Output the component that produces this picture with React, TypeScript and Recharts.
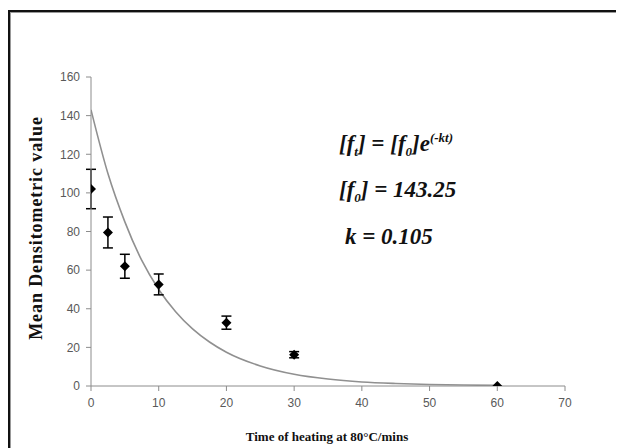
import React from "react";
import {
  ComposedChart,
  Line,
  Scatter,
  ErrorBar,
  XAxis,
  YAxis,
} from "recharts";

// Measured points (time in min, mean densitometric value, error)
const times = [0, 2.5, 5, 10, 20, 30, 60];
const means = [102, 79.5, 62, 52.6, 32.8, 16.2, 0];
const errors = [10.2, 8, 6.2, 5.4, 3.4, 1.6, 0];

// Fitted curve values
const curveTimes = [0, 2.5, 5, 7.5, 10, 12.5, 15, 17.5, 20, 25, 30, 35, 40, 45, 50, 55, 60];
const curveValues = [143, 110, 85, 65, 50, 38.5, 29.6, 22.8, 17.5, 10.4, 6.1, 3.6, 2.1, 1.3, 0.8, 0.5, 0.3];

const xTicks = [0, 10, 20, 30, 40, 50, 60, 70];
const yTicks = [0, 20, 40, 60, 80, 100, 120, 140, 160];

const pointData = times.map((t, i) => ({ t, v: means[i], err: errors[i] }));
const curveData = curveTimes.map((t, i) => ({ t, fit: curveValues[i] }));

const Diamond = (props: any) => {
  const { cx, cy } = props;
  const r = 5;
  return (
    <polygon
      points={`${cx},${cy - r} ${cx + r},${cy} ${cx},${cy + r} ${cx - r},${cy}`}
      fill="#000"
    />
  );
};

const tickFont = "'Liberation Sans', Arial, sans-serif";
const serif = "'Liberation Serif', 'Times New Roman', serif";

export default function App() {
  const ann = {
    fontFamily: serif,
    fontWeight: 700,
    fontStyle: "italic",
    fontSize: 23,
    fill: "#111",
  } as const;
  return (
    <div style={{ position: "relative", width: 616, height: 440, overflow: "hidden" }}>
      <style>{`html { overflow: hidden; }`}</style>
      <div
        style={{
          position: "absolute",
          left: 0,
          top: 2,
          width: 900,
          height: 900,
          borderLeft: "2px solid #111",
          borderTop: "2px solid #111",
          boxShadow: "inset 1px 1px 0 #999",
          pointerEvents: "none",
        }}
      />
      <ComposedChart
        width={616}
        height={440}
        margin={{ top: 69, right: 59, bottom: 32, left: 0 }}
      >
        <XAxis
          type="number"
          dataKey="t"
          domain={[0, 70]}
          ticks={xTicks}
          stroke="#8c8c8c"
          tick={{ fill: "#595959", fontSize: 12, fontFamily: tickFont, dy: 5 }}
          tickSize={5}
          height={30}
          allowDataOverflow
        />
        <YAxis
          type="number"
          domain={[0, 160]}
          ticks={yTicks}
          stroke="#8c8c8c"
          tick={{ fill: "#595959", fontSize: 12, fontFamily: tickFont, dx: -4 }}
          tickSize={5}
          width={83}
          allowDataOverflow
        />
        <Line
          data={curveData}
          dataKey="fit"
          type="monotone"
          stroke="#909090"
          strokeWidth={1.6}
          dot={false}
          isAnimationActive={false}
        />
        <Scatter
          data={pointData}
          dataKey="v"
          shape={<Diamond />}
          isAnimationActive={false}
        >
          <ErrorBar dataKey="err" direction="y" stroke="#000" strokeWidth={1.5} width={5} />
        </Scatter>
      </ComposedChart>
      <svg
        width={616}
        height={440}
        style={{ position: "absolute", left: 0, top: 0, pointerEvents: "none" }}
      >
        <text
          x={28}
          y={228 - 8}
          transform={`rotate(-90 28 ${228 - 8})`}
          textAnchor="middle"
          dominantBaseline="central"
          style={{ fontFamily: serif, fontWeight: 700, fontSize: 18, letterSpacing: 0.9 }}
          fill="#111"
        >
          Mean Densitometric value
        </text>
        <text
          x={327 - 8}
          y={441 - 8}
          textAnchor="middle"
          style={{ fontFamily: serif, fontWeight: 700, fontSize: 13 }}
          fill="#111"
        >
          Time of heating at 80°C/mins
        </text>
        <text x={339 - 8} y={151 - 8} style={ann}>
          [f<tspan dy={5} fontSize={13}>t</tspan>
          <tspan dy={-5}>] = [f</tspan>
          <tspan dy={5} fontSize={13}>0</tspan>
          <tspan dy={-5}>]e</tspan>
          <tspan dy={-9} fontSize={13}>(-kt)</tspan>
        </text>
        <text x={339 - 8} y={197 - 8} style={ann}>
          [f<tspan dy={5} fontSize={13}>0</tspan>
          <tspan dy={-5}>] = 143.25</tspan>
        </text>
        <text x={345 - 8} y={244 - 8} style={ann}>
          k = 0.105
        </text>
      </svg>
    </div>
  );
}
